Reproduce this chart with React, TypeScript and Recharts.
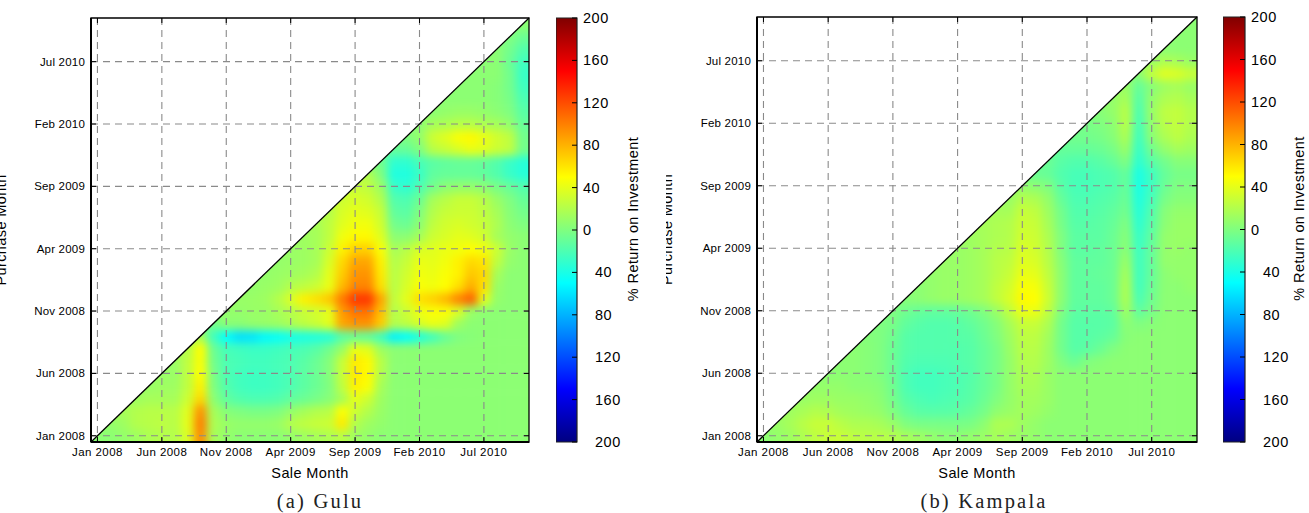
import React from 'react'
import { ScatterChart, Scatter, XAxis, YAxis, CartesianGrid, ReferenceLine, ReferenceArea } from 'recharts'

const monthTicks = [0, 5, 10, 15, 20, 25, 30]
const monthLabels = ['Jan 2008', 'Jun 2008', 'Nov 2008', 'Apr 2009', 'Sep 2009', 'Feb 2010', 'Jul 2010']
const colorbarTicks = [200, 160, 120, 80, 40, 0, -40, -80, -120, -160, -200]

// one row per purchase month, starting at sale month = purchase month
const guluReturns = [
  [5, 5, 8, 12, 18, 20, 20, 35, 95, 15, 8, 5, 5, 5, 5, 8, 12, 15, 18, 22, 12, 8, 5, 5, 5, 5, 5, 5, 5, 5, 5, 5, 5, 5],
  [8, 12, 20, 22, 24, 22, 40, 100, 18, 10, 8, 8, 8, 10, 20, 25, 28, 30, 58, 20, 12, 8, 5, 5, 5, 5, 5, 5, 5, 5, 5, 5, 5],
  [15, 20, 22, 22, 22, 38, 92, 15, 3, 0, -2, -2, 0, 8, 15, 20, 22, 50, 30, 20, 10, 5, 5, 5, 5, 5, 5, 5, 5, 5, 5, 5],
  [12, 15, 15, 15, 30, 65, 5, -12, -18, -20, -20, -18, -12, -8, -3, 3, 15, 40, 30, 12, 5, 5, 5, 5, 5, 5, 5, 5, 5, 5, 5],
  [10, 12, 12, 25, 55, 0, -18, -24, -26, -26, -24, -20, -14, -8, 0, 25, 55, 48, 15, 5, 5, 5, 5, 5, 5, 5, 5, 5, 5, 5],
  [10, 10, 25, 50, -2, -20, -24, -26, -25, -23, -20, -14, -8, 2, 28, 58, 52, 20, 5, 5, 5, 5, 5, 5, 5, 5, 5, 5, 5],
  [10, 25, 48, -5, -20, -22, -24, -24, -22, -20, -15, -8, 2, 28, 58, 52, 22, 5, 5, 5, 5, 5, 5, 5, 5, 5, 5, 5],
  [20, 50, -8, -22, -25, -27, -27, -25, -22, -20, -15, -5, 10, 42, 38, 12, 5, 5, 5, 5, 5, 5, 5, 5, 5, 5, 5],
  [15, -25, -50, -62, -60, -52, -48, -42, -40, -38, -35, -15, -10, -12, -25, -55, -50, -38, -25, -10, 0, 3, 5, 5, 5, 5],
  [-5, 5, 5, 8, 10, 12, 18, 25, 30, 40, 85, 92, 92, 70, 20, 25, 35, 42, 38, 12, 5, 5, 5, 5, 5],
  [8, 8, 10, 10, 15, 20, 28, 32, 40, 90, 105, 105, 75, 20, 30, 42, 48, 48, 35, 10, 5, 5, 5, 5],
  [10, 10, 12, 20, 35, 55, 62, 72, 102, 128, 128, 85, 25, 40, 62, 68, 78, 98, 112, 40, 8, 5, 5],
  [8, 10, 12, 20, 25, 30, 42, 78, 98, 98, 62, 22, 35, 48, 45, 50, 62, 82, 62, 10, 5, 5],
  [8, 10, 12, 15, 20, 40, 70, 92, 92, 58, 22, 32, 45, 42, 48, 55, 72, 65, 15, 5, 5],
  [8, 10, 12, 15, 35, 65, 85, 85, 55, 20, 28, 42, 40, 45, 55, 65, 60, 25, 8, 5],
  [10, 12, 15, 30, 55, 68, 68, 48, 15, 22, 35, 38, 42, 45, 50, 45, 30, 10, 5],
  [12, 15, 25, 45, 52, 52, 38, 5, 5, 15, 30, 35, 40, 38, 32, 15, 8, 5],
  [15, 25, 38, 45, 45, 32, -5, -8, 5, 25, 32, 35, 32, 28, 18, 5, 0],
  [20, 35, 40, 38, 28, -12, -15, 0, 20, 28, 30, 30, 25, 15, 3, -5],
  [30, 35, 32, 20, -18, -20, -8, 15, 22, 28, 28, 22, 10, 0, -10],
  [28, 25, 12, -28, -32, -20, -5, 5, 8, 8, 5, -3, -10, -18],
  [20, 0, -38, -38, -28, -12, -10, -10, -10, -12, -18, -28, -35],
  [-5, -32, -32, -22, -15, -12, -10, -10, -12, -18, -28, -35],
  [-10, -10, 0, 22, 28, 35, 42, 38, 30, 25, -5],
  [0, 8, 30, 38, 48, 52, 42, 32, 25, -5],
  [5, 15, 18, 22, 22, 18, 15, 8, -10],
  [5, 8, 10, 10, 8, 5, 0, -15],
  [5, 5, 5, 5, 3, -3, -20],
  [5, 5, 5, 3, -5, -25],
  [5, 5, 5, -5, -28],
  [5, 5, -8, -25],
  [5, -5, -18],
  [0, -8],
  [5],
]

const kampalaReturns = [
  [5, 8, 12, 18, 24, 28, 28, 24, 22, 22, 20, 15, 12, 8, 5, 5, 8, 10, 15, 12, 10, 8, 5, 5, 5, 5, 5, 5, 5, 5, 5, 5, 5, 5],
  [10, 15, 22, 28, 28, 22, 18, 18, 15, 10, 0, -3, -3, -3, -3, -2, 5, 18, 18, 12, 8, 5, 5, 5, 5, 5, 5, 5, 5, 5, 5, 5, 5],
  [12, 16, 20, 18, 14, 12, 10, 8, 0, -10, -15, -16, -16, -14, -10, -4, 6, 10, 14, 12, 8, 5, 5, 5, 5, 5, 5, 5, 5, 5, 5, 5],
  [10, 12, 12, 10, 10, 8, 5, -4, -16, -20, -22, -20, -18, -15, -8, 0, 8, 14, 14, 10, 5, 5, 5, 5, 5, 5, 5, 5, 5, 5, 5],
  [8, 8, 8, 5, 5, 3, -6, -20, -24, -24, -22, -20, -16, -10, -3, 8, 16, 16, 10, 5, 5, 5, 5, 5, 5, 5, 5, 5, 5, 5],
  [5, 5, 5, 3, 0, -8, -20, -24, -24, -22, -20, -17, -10, -3, 8, 18, 18, 10, 5, 5, 5, 5, 5, 5, 5, 5, 5, 5, 5],
  [5, 5, 3, 0, -8, -18, -20, -20, -20, -18, -16, -10, -3, 8, 20, 20, 12, 0, -8, 0, 3, 5, 5, 5, 5, 5, 5, 5],
  [5, 3, 0, -8, -16, -18, -18, -18, -18, -16, -10, -3, 10, 22, 22, 12, -5, -16, -14, -8, 0, 5, 5, 5, 5, 5, 5],
  [2, 0, -6, -16, -18, -18, -18, -16, -15, -8, 0, 12, 24, 24, 14, -5, -16, -16, -14, -10, 3, 5, 5, 5, 5, 5],
  [0, -3, -12, -16, -18, -18, -16, -12, -6, 2, 15, 28, 28, 18, -5, -16, -16, -16, -14, 5, 0, 3, 5, 5, 5],
  [0, -6, -10, -12, -12, -10, -6, 0, 10, 25, 42, 42, 25, 0, -14, -14, -14, -12, 12, -12, -3, 5, 5, 5],
  [3, 5, 8, 10, 10, 12, 15, 25, 35, 52, 50, 30, 5, -12, -12, -12, -8, 18, -20, -6, 5, 5, 5],
  [5, 8, 10, 10, 12, 15, 25, 32, 48, 46, 28, 5, -12, -12, -12, -8, 18, -24, -8, 5, 5, 8],
  [8, 10, 10, 12, 15, 22, 28, 42, 40, 25, 5, -12, -12, -10, -8, 15, -25, -10, 5, 8, 8],
  [10, 10, 12, 15, 22, 25, 38, 35, 22, 3, -12, -12, -12, -8, 10, -25, -10, 8, 8, 8],
  [10, 12, 15, 20, 22, 35, 32, 20, 0, -14, -14, -12, -8, 5, -26, -10, 8, 10, 8],
  [12, 15, 18, 20, 32, 30, 18, 0, -14, -14, -14, -8, 3, -28, -12, 8, 10, 10],
  [15, 18, 20, 30, 28, 15, -3, -16, -16, -14, -10, 0, -32, -15, 5, 10, 10],
  [15, 15, 28, 25, 12, -5, -18, -18, -16, -12, -5, -35, -18, 3, 8, 8],
  [10, 20, 18, 8, -10, -20, -20, -18, -15, -8, -38, -22, -3, 3, 3],
  [8, 5, 0, -15, -22, -22, -20, -18, -10, -40, -25, -8, 0, 0],
  [-8, -10, -18, -22, -22, -20, -18, -10, -40, -25, -10, -3, -3],
  [-8, -15, -18, -18, -15, -10, 0, -32, -15, -5, 3, 3],
  [-10, -10, -10, -8, -3, 10, -28, -5, 8, 15, 12],
  [-5, -5, -3, 3, 18, -25, 5, 18, 24, 18],
  [-3, 0, 5, 22, -22, 8, 22, 26, 20],
  [3, 8, 22, -20, 10, 24, 26, 20],
  [8, 16, -16, 8, 18, 20, 15],
  [10, -10, 3, 12, 15, 10],
  [5, 26, 38, 35, 28],
  [10, 18, 15, 10],
  [5, 5, 5],
  [5, 5],
  [5],
]

const MONTHS = 34
const SANS = '"Liberation Sans", Arial, sans-serif'

const jetStops: [number, string][] = [
  [0, '#000080'],
  [0.125, '#0000ff'],
  [0.375, '#00ffff'],
  [0.625, '#ffff00'],
  [0.875, '#ff0000'],
  [1, '#800000'],
]

const hexToRgb = (hex: string) => [1, 3, 5].map((i) => parseInt(hex.slice(i, i + 2), 16))

const returnColor = (value: number) => {
  const t = (value + 200) / 400
  for (let i = 1; i < jetStops.length; i++) {
    const [t1, c1] = jetStops[i]
    if (t <= t1) {
      const [t0, c0] = jetStops[i - 1]
      const f = (t - t0) / (t1 - t0)
      const a = hexToRgb(c0)
      const b = hexToRgb(c1)
      return `rgb(${a.map((v, k) => Math.round(v + (b[k] - v) * f)).join(',')})`
    }
  }
  return jetStops[jetStops.length - 1][1]
}

// cells above the diagonal repeat the diagonal value so the blur has no white to pull in
const buildCells = (rows: number[][]) => {
  const cells: { sale: number; purchase: number; value: number }[] = []
  rows.forEach((row, purchase) => {
    for (let sale = 0; sale < MONTHS; sale++) {
      const value = row[Math.max(sale - purchase, 0)] ?? row[row.length - 1]
      cells.push({ sale, purchase, value })
    }
  })
  return cells
}

interface PanelProps {
  id: string
  rows: number[][]
  caption: string
  captionX: number
  left: number
  plotLeft: number
  plotRight: number
  plotTop: number
  plotBottom: number
  barLeft: number
  barRight: number
}

const CHART_W = 643
const CHART_H = 513
const colorbarData = colorbarTicks.map((value) => ({ x: 0.5, value }))

const Panel: React.FC<PanelProps> = ({ id, rows, caption, captionX, left, plotLeft, plotRight, plotTop, plotBottom, barLeft, barRight }) => {
  const plotW = plotRight - plotLeft
  const plotH = plotBottom - plotTop
  const cellW = plotW / MONTHS
  const cellH = plotH / MONTHS
  const cells = buildCells(rows)

  const HeatCell = (props: any) => {
    const { cx, cy, payload } = props
    const padL = payload.sale === 0 ? 24 : 0
    const padR = payload.sale === MONTHS - 1 ? 24 : 0
    const padB = payload.purchase === 0 ? 24 : 0
    const padT = payload.purchase === MONTHS - 1 ? 24 : 0
    return (
      <rect
        x={cx - cellW / 2 - padL}
        y={cy - cellH / 2 - padT}
        width={cellW + 0.6 + padL + padR}
        height={cellH + 0.6 + padT + padB}
        fill={returnColor(payload.value)}
      />
    )
  }

  const SaleTick = (props: any) => {
    const { x, payload } = props
    return (
      <g>
        <line x1={x} x2={x} y1={plotBottom} y2={plotBottom - 5} stroke="#000" />
        <line x1={x} x2={x} y1={plotTop} y2={plotTop + 5} stroke="#000" />
        <text x={x} y={plotBottom + 14} textAnchor="middle" fontFamily={SANS} fontSize={11.5} letterSpacing={0.45} fill="#000">
          {monthLabels[monthTicks.indexOf(payload.value)]}
        </text>
      </g>
    )
  }

  const PurchaseTick = (props: any) => {
    const { y, payload } = props
    return (
      <g>
        <line x1={plotLeft} x2={plotLeft + 5} y1={y} y2={y} stroke="#000" />
        <line x1={plotRight} x2={plotRight - 5} y1={y} y2={y} stroke="#000" />
        <text x={plotLeft - 6} y={y + 4} textAnchor="end" fontFamily={SANS} fontSize={11.5} letterSpacing={0.2} fill="#000">
          {monthLabels[monthTicks.indexOf(payload.value)]}
        </text>
      </g>
    )
  }

  const BarTick = (props: any) => {
    const { y, payload } = props
    // the negative labels lost their minus sign in the original, only the gap is left
    const shift = payload.value < 0 ? 12 : 0
    return (
      <g>
        <line x1={barRight - barLeft} x2={barRight - barLeft - 5} y1={y} y2={y} stroke="#000" />
        <text x={barRight - barLeft + 6 + shift} y={y + 5} fontFamily={SANS} fontSize={14.5} letterSpacing={0.5} fill="#000">
          {Math.abs(payload.value)}
        </text>
      </g>
    )
  }

  const axisText = { fontFamily: SANS, fontSize: 14.5, letterSpacing: 0.4, fill: '#000', textAnchor: 'middle' as const }

  return (
    <div style={{ position: 'absolute', left, top: 0, width: CHART_W, height: CHART_H }}>
      <style>{`.cells-${id} { filter: url(#blur-${id}); clip-path: url(#tri-${id}); }`}</style>
      <div style={{ position: 'absolute', left: 0, top: 0 }}>
        <ScatterChart width={plotRight + 20} height={CHART_H} margin={{ top: plotTop, right: 20, bottom: 0, left: 0 }}>
          <defs>
            <filter id={`blur-${id}`} filterUnits="userSpaceOnUse" x={plotLeft - 20} y={plotTop - 20} width={plotW + 40} height={plotH + 40} colorInterpolationFilters="sRGB">
              <feGaussianBlur stdDeviation="4.5" />
            </filter>
            <clipPath id={`tri-${id}`}>
              <polygon points={`${plotLeft},${plotBottom} ${plotRight},${plotTop} ${plotRight},${plotBottom}`} />
            </clipPath>
          </defs>
          <Scatter className={`cells-${id}`} data={cells} shape={HeatCell} isAnimationActive={false} />
          <CartesianGrid
            zIndex={1000}
            verticalValues={monthTicks}
            horizontalValues={monthTicks}
            stroke="#8a8a8a"
            strokeWidth={1.1}
            strokeDasharray="7 5"
          />
          <ReferenceLine zIndex={1100} segment={[{ x: -0.5, y: -0.5 }, { x: MONTHS - 0.5, y: MONTHS - 0.5 }]} stroke="#000" strokeWidth={1.3} />
          <ReferenceArea zIndex={1100} x1={-0.5} x2={MONTHS - 0.5} y1={-0.5} y2={MONTHS - 0.5} fill="none" stroke="#000" strokeWidth={1.3} />
          <XAxis
            zIndex={1200}
            type="number"
            dataKey="sale"
            domain={[-0.5, MONTHS - 0.5]}
            allowDataOverflow
            ticks={monthTicks}
            interval={0}
            tick={SaleTick}
            tickLine={false}
            axisLine={{ stroke: '#000', strokeWidth: 2 }}
            height={CHART_H - plotBottom}
            label={{ value: 'Sale Month', position: 'insideTop', dy: 21, style: axisText }}
          />
          <YAxis
            zIndex={1200}
            type="number"
            dataKey="purchase"
            domain={[-0.5, MONTHS - 0.5]}
            allowDataOverflow
            ticks={monthTicks}
            interval={0}
            tick={PurchaseTick}
            tickLine={false}
            axisLine={{ stroke: '#000', strokeWidth: 2 }}
            width={plotLeft}
            label={{ value: 'Purchase Month', angle: -90, position: 'insideLeft', dx: -4, style: axisText }}
          />
        </ScatterChart>
      </div>

      <div style={{ position: 'absolute', left: barLeft, top: 0 }}>
        <ScatterChart
          width={CHART_W - barLeft}
          height={CHART_H}
          margin={{ top: plotTop, right: 0, bottom: CHART_H - plotBottom, left: 0 }}
        >
          <defs>
            <linearGradient id={`jet-${id}`} x1="0" y1="1" x2="0" y2="0">
              {jetStops.map(([offset, color]) => (
                <stop key={offset} offset={offset} stopColor={color} />
              ))}
            </linearGradient>
          </defs>
          <XAxis type="number" dataKey="x" domain={[0, 1]} hide />
          <YAxis
            orientation="right"
            type="number"
            dataKey="value"
            domain={[-200, 200]}
            ticks={colorbarTicks}
            interval={0}
            tick={BarTick}
            tickLine={false}
            axisLine={false}
            width={CHART_W - barRight}
            label={{ value: '%  Return on Investment', angle: -90, position: 'insideRight', dx: -5, dy: -11, style: axisText }}
          />
          <Scatter data={colorbarData} shape={() => <g />} isAnimationActive={false} />
          <ReferenceArea x1={0} x2={1} y1={-200} y2={200} fill={`url(#jet-${id})`} fillOpacity={1} stroke="#222" strokeWidth={1.2} />
        </ScatterChart>
      </div>

      <div
        style={{
          position: 'absolute',
          left: captionX - 100,
          width: 200,
          top: 491,
          textAlign: 'center',
          fontFamily: '"Liberation Serif", serif',
          fontSize: 20.5,
          letterSpacing: 2.2,
          lineHeight: '20px',
          color: '#222',
        }}
      >
        {caption}
      </div>
    </div>
  )
}

export default function App() {
  return (
    <div style={{ position: 'absolute', left: 0, top: 0, width: 1309, height: 513, background: '#fff', overflow: 'hidden' }}>
      <Panel id="gulu" rows={guluReturns} caption="(a) Gulu" captionX={320} left={0} plotLeft={91} plotRight={529} plotTop={18} plotBottom={442} barLeft={556} barRight={577} />
      <Panel id="kampala" rows={kampalaReturns} caption="(b) Kampala" captionX={318} left={666} plotLeft={91} plotRight={531} plotTop={17} plotBottom={442} barLeft={557} barRight={579} />
    </div>
  )
}
